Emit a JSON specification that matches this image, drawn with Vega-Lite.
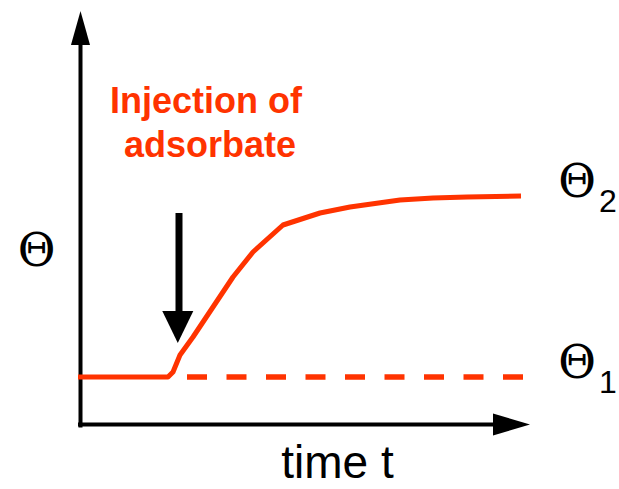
{
  "$schema": "https://vega.github.io/schema/vega-lite/v6.json",
  "width": 619,
  "height": 489,
  "autosize": "none",
  "padding": 0,
  "background": "white",
  "config": {"view": {"stroke": null}},
  "encoding": {
    "x": {"field": "t", "type": "quantitative", "axis": null, "scale": {"domain": [-8, 53.9], "nice": false, "zero": false}},
    "y": {"field": "th", "type": "quantitative", "axis": null, "scale": {"domain": [-6.45, 42.45], "nice": false, "zero": false}}
  },
  "layer": [
    {
      "data": {"values": [
        {"t": 0.05, "th": -0.3, "t2": 0.05, "th2": 39.0},
        {"t": -0.2, "th": 0, "t2": 42.0, "th2": 0}
      ]},
      "mark": {"type": "rule", "color": "black", "strokeWidth": 4},
      "encoding": {"x2": {"field": "t2"}, "y2": {"field": "th2"}}
    },
    {
      "data": {"values": [{"t": 0.05, "th": 39.65}]},
      "mark": {"type": "point", "shape": "M 0 -1 L 0.56 1 L -0.56 1 Z", "size": 1156, "filled": true, "color": "black", "opacity": 1}
    },
    {
      "data": {"values": [{"t": 43.15, "th": 0}]},
      "mark": {"type": "point", "shape": "M 1 0 L -1 -0.59 L -1 0.59 Z", "size": 1369, "filled": true, "color": "black", "opacity": 1}
    },
    {
      "data": {"values": [{"t": 9.9, "th": 21.15, "th2": 10.95}]},
      "mark": {"type": "rule", "color": "black", "strokeWidth": 7},
      "encoding": {"y2": {"field": "th2"}}
    },
    {
      "data": {"values": [{"t": 9.78, "th": 9.75}]},
      "mark": {"type": "point", "shape": "M -0.97 -1 L 0.97 -1 L 0 1 Z", "size": 1024, "filled": true, "color": "black", "opacity": 1}
    },
    {
      "data": {"values": [
        {"t": -0.2, "th": 4.75},
        {"t": 8.8, "th": 4.75},
        {"t": 9.3, "th": 5.25},
        {"t": 10.0, "th": 6.95},
        {"t": 11.3, "th": 8.75},
        {"t": 13.3, "th": 11.75},
        {"t": 15.3, "th": 14.75},
        {"t": 17.3, "th": 17.25},
        {"t": 20.3, "th": 19.95},
        {"t": 24.0, "th": 21.15},
        {"t": 27.0, "th": 21.75},
        {"t": 32.0, "th": 22.45},
        {"t": 35.3, "th": 22.65},
        {"t": 38.7, "th": 22.75},
        {"t": 44.1, "th": 22.85}
      ]},
      "mark": {"type": "line", "color": "#FF3300", "strokeWidth": 5, "strokeJoin": "round"}
    },
    {
      "data": {"values": [{"t": 10.7, "th": 4.75}, {"t": 44.3, "th": 4.75}]},
      "mark": {"type": "line", "color": "#FF3300", "strokeWidth": 5.5, "strokeDash": [20, 19.5]}
    },
    {
      "data": {"values": [
        {"t": 12.6, "th": 31.15, "label": "Injection of"},
        {"t": 13.0, "th": 26.75, "label": "adsorbate"}
      ]},
      "mark": {"type": "text", "font": "Liberation Sans", "fontSize": 36, "fontWeight": "bold", "color": "#FF3300", "align": "center", "baseline": "alphabetic"},
      "encoding": {"text": {"field": "label"}}
    },
    {
      "data": {"values": [
        {"t": -4.35, "th": 15.85, "label": "Θ"},
        {"t": 49.7, "th": 4.65, "label": "Θ"},
        {"t": 49.7, "th": 22.75, "label": "Θ"}
      ]},
      "mark": {"type": "text", "font": "DejaVu Serif", "fontSize": 46, "color": "black", "align": "center", "baseline": "alphabetic"},
      "encoding": {"text": {"field": "label"}}
    },
    {
      "data": {"values": [
        {"t": 51.9, "th": 3.15, "label": "1"},
        {"t": 51.9, "th": 21.25, "label": "2"}
      ]},
      "mark": {"type": "text", "font": "Liberation Sans", "fontSize": 32, "color": "black", "align": "left", "baseline": "alphabetic"},
      "encoding": {"text": {"field": "label"}}
    },
    {
      "data": {"values": [{"t": 25.75, "th": -5.35, "label": "time t"}]},
      "mark": {"type": "text", "font": "Liberation Sans", "fontSize": 46, "color": "black", "align": "center", "baseline": "alphabetic"},
      "encoding": {"text": {"field": "label"}}
    }
  ]
}
